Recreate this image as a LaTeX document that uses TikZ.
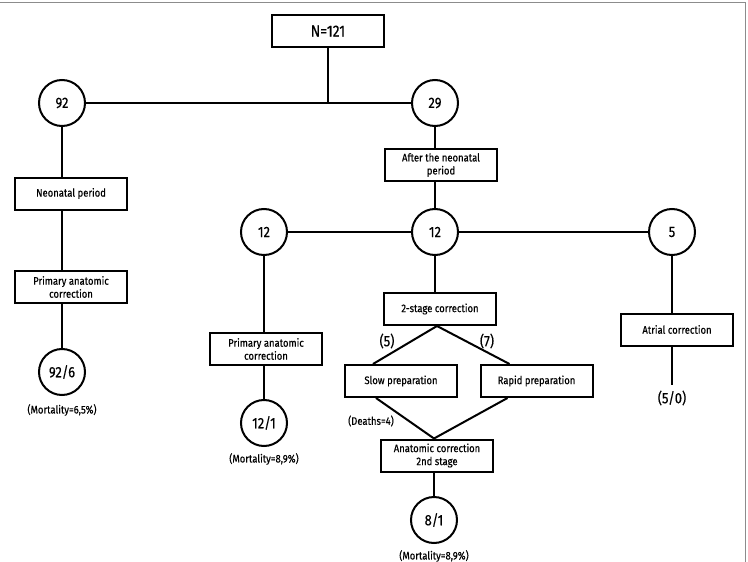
\documentclass[tikz,border=0pt]{standalone}
\usepackage{fontspec}
\setmainfont{Fira Sans}[FakeStretch=0.86, FakeBold=0.4]
\usetikzlibrary{calc}
\begin{document}
\begin{tikzpicture}[x=1pt,y=-1pt,
  box/.style={draw, line width=2pt, minimum width=112pt, minimum height=32pt, inner sep=0pt, align=center, font=\fontsize{11}{13}\selectfont},
  circ/.style={draw, circle, line width=2pt, minimum size=46pt, inner sep=0pt, font=\fontsize{15}{17}\selectfont},
  conn/.style={line width=2pt},
  note/.style={font=\fontsize{11}{12}\selectfont, inner sep=0pt},
  big/.style={font=\fontsize{15}{17}\selectfont, inner sep=0pt},
  frame/.style={draw=black!45, line width=1pt}]
\useasboundingbox (0,0) rectangle (748,562);
\draw[frame] (0,2) -- (745,2) -- (745,562);

\node[box, font=\fontsize{16}{18}\selectfont] (n121) at (328,31) {N=121};
\node[circ] (c92) at (62,103) {92};
\node[circ] (c29) at (435,103) {29};
\node[box] (neo) at (71,193.5) {Neonatal period};
\node[box] (pac1) at (71,287) {Primary anatomic\\correction};
\node[circ] (c926) at (62,372) {92/6};
\node[note] (m1) at (62,410) {(Mortality=6,5\%)};

\node[box] (after) at (441,165) {After the neonatal\\period};
\node[circ] (c12a) at (264,232) {12};
\node[circ] (c12b) at (435,232) {12};
\node[circ] (c5) at (672,232) {5};
\node[box] (pac2) at (266,349) {Primary anatomic\\correction};
\node[circ] (c121) at (264,423) {12/1};
\node[note] (m2) at (264,459) {(Mortality=8,9\%)};

\node[box] (two) at (440,309) {2-stage correction};
\node[big] (l5) at (387,341) {(5)};
\node[big] (l7) at (487,341) {(7)};
\node[box] (slow) at (401,381) {Slow preparation};
\node[box] (rapid) at (536.5,381) {Rapid preparation};
\node[note] (deaths) at (371,421) {(Deaths=4)};
\node[box] (anat) at (437,455.5) {Anatomic correction\\2nd stage};
\node[circ] (c81) at (434,520) {8/1};
\node[note] (m3) at (434,556) {(Mortality=8,9\%)};

\node[box] (atrial) at (677,329.5) {Atrial correction};
\coordinate (end5) at (672,385);
\node[big] (r50) at (672,398) {(5/0)};

\draw[conn] (n121.south) -- (n121.south |- c92);
\draw[conn] (c92) -- (c29);
\draw[conn] (c92) -- (c92 |- neo.north);
\draw[conn] (c92 |- neo.south) -- (c92 |- pac1.north);
\draw[conn] (c92 |- pac1.south) -- (c926);
\draw[conn] (c29) -- (c29 |- after.north);
\draw[conn] (c29 |- after.south) -- (c12b);
\draw[conn] (c12a) -- (c12b);
\draw[conn] (c12b) -- (c5);
\draw[conn] (c12a) -- (c12a |- pac2.north);
\draw[conn] (c12a |- pac2.south) -- (c121);
\draw[conn] (c12b) -- (c12b |- two.north);
\draw[conn] ($(two.south)+(-3,0)$) -- ($(slow.north west)+(29,0)$);
\draw[conn] ($(two.south)+(-3,0)$) -- ($(rapid.north west)+(30,0)$);
\draw[conn] ($(slow.south west)+(32,0)$) -- ($(anat.north)+(-3,0)$);
\draw[conn] ($(rapid.south west)+(28,0)$) -- ($(anat.north)+(-3,0)$);
\draw[conn] (c81 |- anat.south) -- (c81);
\draw[conn] (c5) -- (c5 |- atrial.north);
\draw[conn] (c5 |- atrial.south) -- (end5);
\end{tikzpicture}
\end{document}
